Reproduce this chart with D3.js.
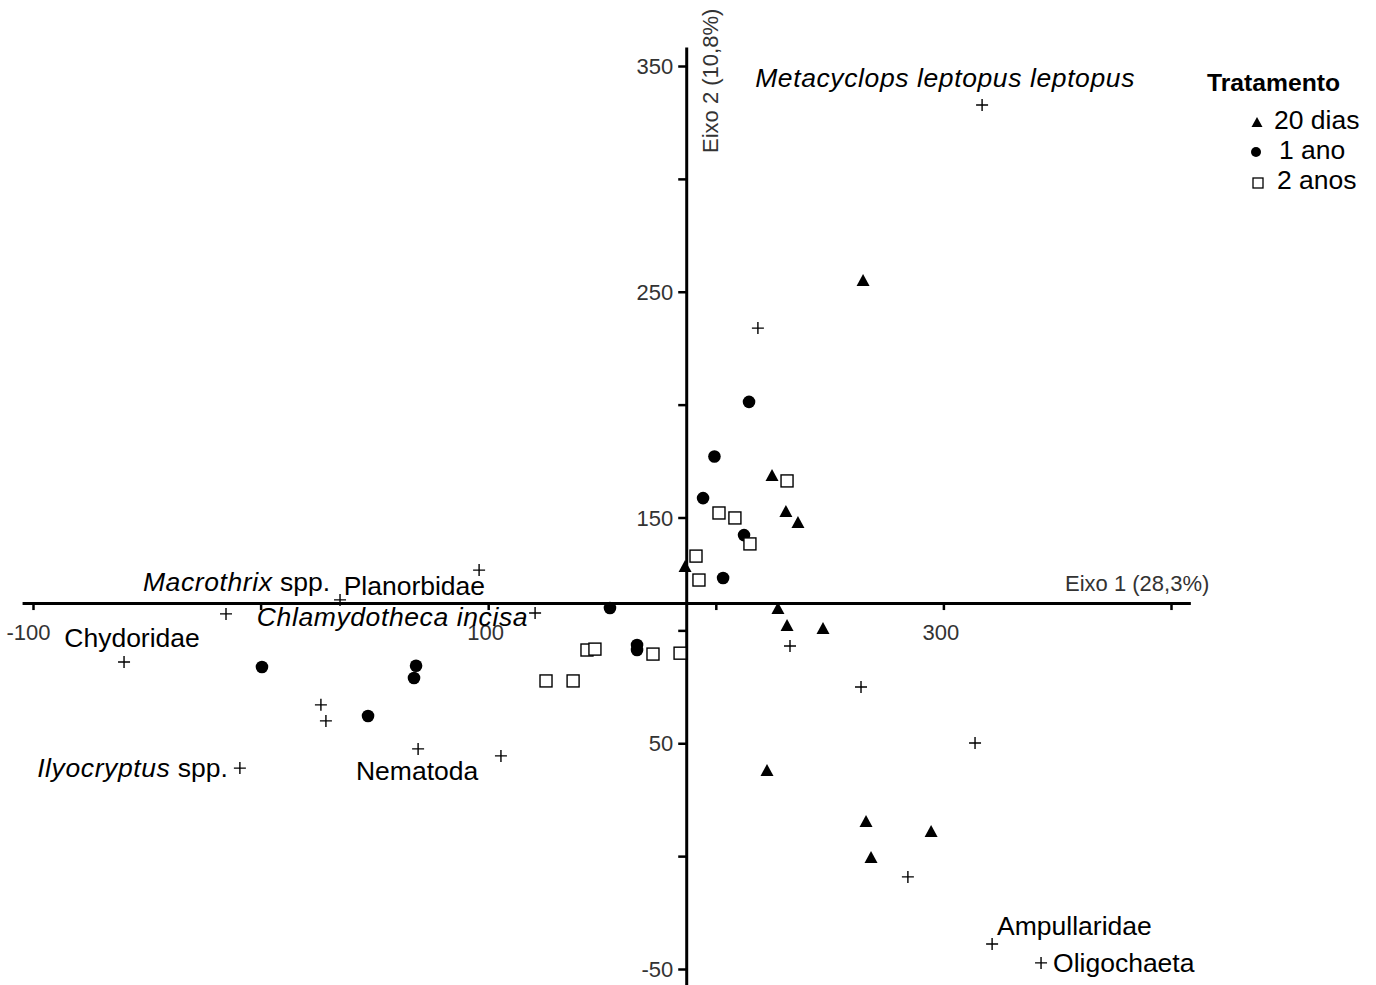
<!DOCTYPE html>
<html><head><meta charset="utf-8">
<script src="https://cdn.jsdelivr.net/npm/d3@7"></script>
<style>body{margin:0;background:#fff}svg{display:block}</style>
</head><body>
<script>
// ---- data ----
const xTicks = [-100, 0, 100, 200, 300, 400];
const xTickLabels = ["-100", "", "100", "", "300", ""];
const yTicks = [-50, 0, 50, 100, 150, 200, 250, 300, 350];
const yTickLabels = ["-50", "", "50", "", "150", "", "250", "", "350"];
const axisTitleX = "Eixo 1 (28,3%)";
const axisTitleY = "Eixo 2 (10,8%)";
const legendTitle = "Tratamento";
const groupNames = ["20 dias", "1 ano", "2 anos"];
const origin = [187, 112.1];

const dias20X = [264.7, 224.7, 230.8, 236.1, 186.5, 227.3, 231.3, 247.1, 222.5, 266.0, 294.6, 268.2];
const dias20Y = [255.2, 168.8, 152.9, 148.0, 128.5, 109.9, 102.4, 101.0, 38.2, 15.6, 11.1, -0.4];

const ano1X = [214.6, 199.4, 194.4, 212.4, 203.2, 153.5, 165.4, 165.4, 0.6, 68.3, 67.4, 47.2];
const ano1Y = [201.2, 177.0, 158.6, 142.2, 123.2, 109.9, 93.5, 91.3, 83.8, 84.3, 78.9, 62.1];

const anos2X = [231.3, 201.4, 208.4, 215.0, 191.3, 192.6, 143.4, 146.9, 172.4, 184.3, 125.4, 137.3];
const anos2Y = [166.2, 152.0, 149.8, 138.3, 132.9, 122.3, 91.3, 91.7, 89.5, 89.9, 77.6, 77.6];

const speciesNames = ["Metacyclops leptopus leptopus", "", "Planorbidae", "Macrothrix spp.", "", "Chlamydotheca incisa",
  "Chydoridae", "", "", "Ilyocryptus spp.", "Nematoda", "", "", "", "", "", "Ampullaridae", "Oligochaeta"];
const speciesX = [317.0, 218.5, 96.0, 34.9, -15.2, 120.6, -60.0, 26.5, 28.7, -9.1, 69.2, 105.6, 232.6, 263.8, 313.9, 284.4, 321.4, 342.9];
const speciesY = [332.7, 233.9, 126.7, 113.5, 107.3, 107.7, 86.0, 67.0, 59.9, 39.0, 47.5, 44.4, 93.1, 74.9, 50.1, -9.2, -38.9, -47.3];

// ---- label placement (style) ----
const labelStyle = {
  "Metacyclops leptopus leptopus": {anchor: "middle", dx: -37, dy: -18, italic: [0, 1, 2]},
  "Planorbidae": {anchor: "end", dx: 6, dy: 25},
  "Macrothrix spp.": {anchor: "end", dx: -10, dy: -9, italic: [0]},
  "Chlamydotheca incisa": {anchor: "end", dx: -7, dy: 13, italic: [0, 1]},
  "Chydoridae": {anchor: "middle", dx: 8, dy: -15},
  "Ilyocryptus spp.": {anchor: "end", dx: -12, dy: 9, italic: [0]},
  "Nematoda": {anchor: "middle", dx: -1, dy: 31},
  "Ampullaridae": {anchor: "start", dx: 5, dy: -9},
  "Oligochaeta": {anchor: "start", dx: 12, dy: 9}
};

const W = 1376, H = 985;
const FONT = "'Liberation Sans', Arial, Helvetica, sans-serif";
const svg = d3.select("body").append("svg").attr("width", W).attr("height", H)
  .style("font-family", FONT);

const x = d3.scaleLinear().domain([-100, 400]).range([33, 1171]);
const y = d3.scaleLinear().domain([-50, 350]).range([969, 66]);

const ox = x(origin[0]), oy = y(origin[1]);

// X axis
const xAxisScale = x.copy().domain([-104.8, 408.5]).range([x(-104.8), x(408.5)]);
const gx = svg.append("g").attr("transform", `translate(0,${oy})`)
  .call(d3.axisBottom(xAxisScale).tickValues(xTicks).tickSize(7).tickSizeOuter(0)
    .tickFormat((d, i) => xTickLabels[i]));
gx.select(".domain").attr("stroke", "#000").attr("stroke-width", 3);
gx.selectAll(".tick line").attr("stroke", "#000").attr("stroke-width", 2.5);
gx.selectAll(".tick text").attr("y", 21).attr("dy", "0.71em")
  .attr("x", d => d < 0 ? -5 : -3)
  .attr("font-size", 22).attr("fill", "#333").attr("font-family", FONT);

// Y axis
const yAxisScale = y.copy().domain([-57.5, 358.4]).range([y(-57.5), y(358.4)]);
const gy = svg.append("g").attr("transform", `translate(${ox},0)`)
  .call(d3.axisLeft(yAxisScale).tickValues(yTicks).tickSize(8).tickSizeOuter(0)
    .tickFormat((d, i) => yTickLabels[i]));
gy.select(".domain").attr("stroke", "#000").attr("stroke-width", 3);
gy.selectAll(".tick line").attr("stroke", "#000").attr("stroke-width", 2.5);
gy.selectAll(".tick text").attr("x", -13).attr("dy", "0.35em")
  .attr("font-size", 22).attr("fill", "#333").attr("font-family", FONT);

// axis titles
svg.append("text").attr("x", 1065).attr("y", oy - 12).attr("font-size", 22).attr("fill", "#333")
  .text(axisTitleX);
svg.append("text").attr("transform", `translate(${ox + 32},153) rotate(-90)`)
  .attr("font-size", 22).attr("fill", "#333").text(axisTitleY);

// symbols
const triPath = (w, h) => `M0,${-h / 2}L${w / 2},${h / 2}L${-w / 2},${h / 2}Z`;

const tri = d3.zip(dias20X, dias20Y);
svg.append("g").selectAll("path").data(tri).join("path")
  .attr("transform", d => `translate(${x(d[0])},${y(d[1])})`)
  .attr("d", triPath(13, 12)).attr("fill", "#000");

const circ = d3.zip(ano1X, ano1Y);
svg.append("g").selectAll("circle").data(circ).join("circle")
  .attr("cx", d => x(d[0])).attr("cy", d => y(d[1])).attr("r", 6.3).attr("fill", "#000");

const sq = d3.zip(anos2X, anos2Y);
svg.append("g").selectAll("rect").data(sq).join("rect")
  .attr("x", d => x(d[0]) - 6).attr("y", d => y(d[1]) - 6).attr("width", 12).attr("height", 12)
  .attr("fill", "#fff").attr("stroke", "#000").attr("stroke-width", 1.4);

// species crosses
const sp = speciesNames.map((n, i) => ({name: n, x: speciesX[i], y: speciesY[i]}));
const cg = svg.append("g");
cg.selectAll("path").data(sp).join("path")
  .attr("transform", d => `translate(${x(d.x)},${y(d.y)})`)
  .attr("d", "M-6,0H6M0,-6V6").attr("stroke", "#000").attr("stroke-width", 1.4).attr("fill", "none");

// species labels
const lg = svg.append("g").attr("font-size", 26.5).attr("fill", "#000");
sp.filter(d => d.name).forEach(d => {
  const st = labelStyle[d.name];
  const t = lg.append("text").attr("x", x(d.x) + st.dx).attr("y", y(d.y) + st.dy)
    .attr("text-anchor", st.anchor);
  const words = d.name.split(" ");
  words.forEach((w, i) => {
    const it = (st.italic || []).includes(i);
    t.append("tspan").text((i > 0 ? " " : "") + w)
      .attr("font-style", it ? "italic" : "normal")
      .attr("letter-spacing", it ? 0.6 : 0);
  });
});

// legend
const leg = svg.append("g");
leg.append("text").attr("x", 1207).attr("y", 91).attr("font-size", 24.7).attr("font-weight", "bold")
  .text(legendTitle);
const legItems = [
  {sym: "tri", cx: 1257, cy: 122, tx: 1274, ty: 129},
  {sym: "circ", cx: 1256, cy: 152, tx: 1279, ty: 159},
  {sym: "sq", cx: 1258, cy: 183, tx: 1277, ty: 189}
];
legItems.forEach((it, i) => {
  if (it.sym === "tri") leg.append("path").attr("transform", `translate(${it.cx},${it.cy})`).attr("d", triPath(11, 10)).attr("fill", "#000");
  if (it.sym === "circ") leg.append("circle").attr("cx", it.cx).attr("cy", it.cy).attr("r", 5).attr("fill", "#000");
  if (it.sym === "sq") leg.append("rect").attr("x", it.cx - 5).attr("y", it.cy - 5).attr("width", 10).attr("height", 10)
    .attr("fill", "#fff").attr("stroke", "#000").attr("stroke-width", 1.3);
  leg.append("text").attr("x", it.tx).attr("y", it.ty).attr("font-size", 26.5).text(groupNames[i]);
});
</script>
</body></html>
